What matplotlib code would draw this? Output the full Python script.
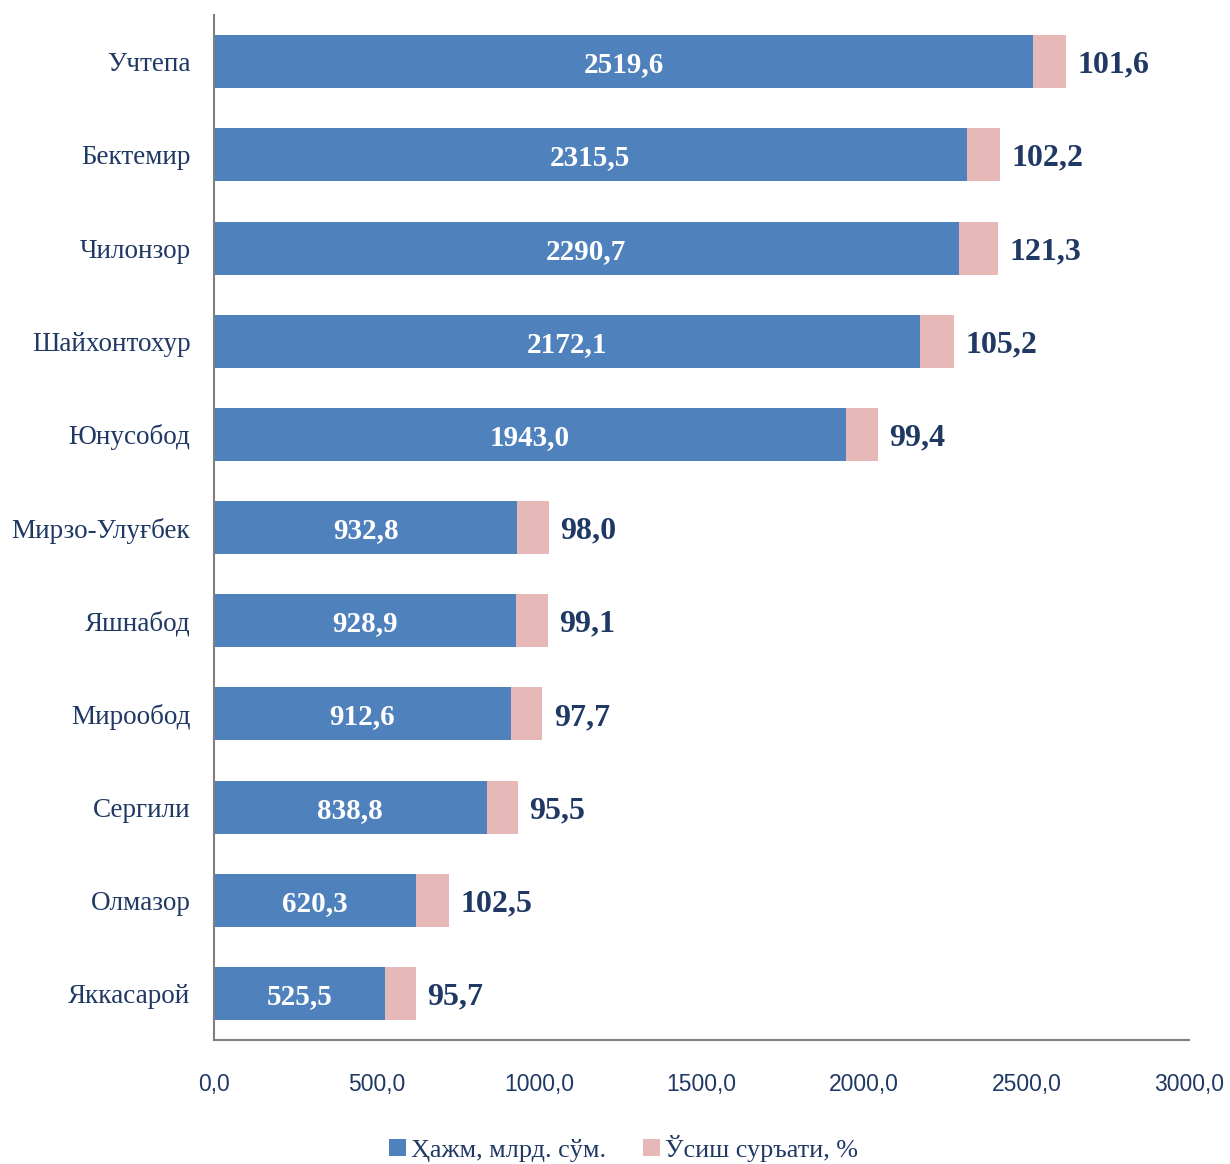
import numpy as np
import matplotlib
matplotlib.use("Agg")
import matplotlib.pyplot as plt

districts = ["Учтепа", "Бектемир", "Чилонзор", "Шайхонтохур", "Юнусобод",
             "Мирзо-Улуғбек", "Яшнабод", "Мирообод", "Сергили", "Олмазор", "Яккасарой"]
volume = [2519.6, 2315.5, 2290.7, 2172.1, 1943.0, 932.8, 928.9, 912.6, 838.8, 620.3, 525.5]
growth = [101.6, 102.2, 121.3, 105.2, 99.4, 98.0, 99.1, 97.7, 95.5, 102.5, 95.7]
xticks = [0, 500, 1000, 1500, 2000, 2500, 3000]

serif = ["Liberation Serif", "DejaVu Serif"]
navy = "#1F3864"
blue = "#4F81BD"
pink = "#E6B9B8"

fig = plt.figure(figsize=(12.3, 11.64), dpi=100)
ax = fig.add_axes([0.174, 0.1065, 0.7927, 0.8805])

y = np.arange(len(districts))
b1 = ax.barh(y, volume, height=0.57, color=blue, label="Ҳажм, млрд. сўм.")
b2 = ax.barh(y, growth, left=volume, height=0.57, color=pink, label="Ўсиш суръати, %")

for i in range(len(districts)):
    ax.text(volume[i] / 2, y[i], f"{volume[i]:.1f}".replace(".", ","),
            ha="center", va="center_baseline", color="white", fontsize=21,
            fontweight="bold", family=serif)
    ax.text(volume[i] + growth[i] + 35, y[i], f"{growth[i]:.1f}".replace(".", ","),
            ha="left", va="center_baseline", color=navy, fontsize=23,
            fontweight="bold", family=serif)

ax.set_xlim(0, 3000)
ax.set_ylim(len(districts) - 0.5, -0.5)
ax.set_yticks(y)
ax.set_yticklabels(districts, family=serif, fontsize=19.5, color=navy)
ax.set_xticks(xticks)
ax.set_xticklabels([f"{v:.1f}".replace(".", ",") for v in xticks],
                   family=["Liberation Sans Narrow", "Liberation Sans"],
                   fontsize=16.5, color=navy)
ax.tick_params(axis="x", length=0, pad=24)
ax.tick_params(axis="y", length=0, pad=17)

for s in ["top", "right"]:
    ax.spines[s].set_visible(False)
for s in ["left", "bottom"]:
    ax.spines[s].set_color("#808080")
    ax.spines[s].set_linewidth(1.5)

fig.legend(handles=[b1, b2], loc="center", bbox_to_anchor=(0.507, 0.0135),
           ncol=2, frameon=False, handlelength=0.65, handleheight=0.65,
           handletextpad=0.2, columnspacing=1.4, borderpad=0.1,
           prop={"family": serif, "size": 18.8}, labelcolor=navy)

fig.savefig("out.png", dpi=100)
